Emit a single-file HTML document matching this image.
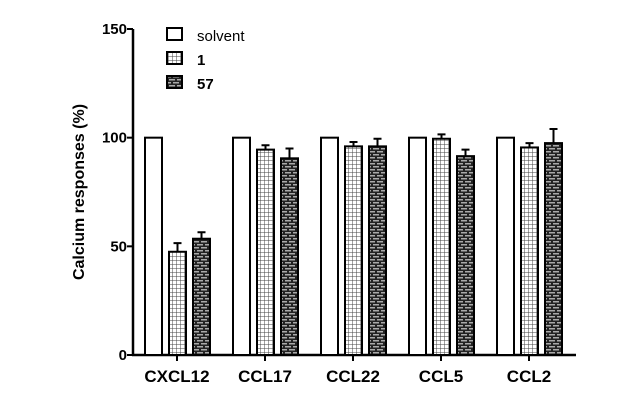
<!DOCTYPE html>
<html><head><meta charset="utf-8"><style>
body{margin:0;background:#fff;}
svg{display:block;font-family:"Liberation Sans",Arial,sans-serif;}
</style></head><body>
<svg id="chart" width="640" height="400" viewBox="0 0 640 400">
<defs>
<pattern id="grid" width="4" height="4" patternUnits="userSpaceOnUse">
<rect width="4" height="4" fill="#fff"/>
<path d="M0 0H4M0 0V4" stroke="#444" stroke-width="1"/>
</pattern>
<pattern id="brick" width="8" height="6" patternUnits="userSpaceOnUse">
<rect width="8" height="6" fill="#222"/>
<rect x="1" y="1" width="6" height="1.5" fill="#aaa"/>
<rect x="-3" y="4" width="6" height="1.5" fill="#aaa"/>
<rect x="5" y="4" width="6" height="1.5" fill="#aaa"/>
</pattern>
</defs>
<g id="axes"></g>
<g id="bars"></g>
<g id="legend">
<rect x="167" y="28" width="15" height="12" fill="#fff" stroke="#000" stroke-width="2"/>
<text x="197" y="41" font-size="15">solvent</text>
<rect x="167" y="52" width="15" height="12" fill="url(#grid)" stroke="#000" stroke-width="2"/>
<text x="197" y="65" font-size="15" font-weight="bold">1</text>
<rect x="167" y="76" width="15" height="12" fill="url(#brick)" stroke="#000" stroke-width="2"/>
<text x="197" y="89" font-size="15" font-weight="bold">57</text>
</g>
<text transform="translate(84,192) rotate(-90)" text-anchor="middle" font-size="16" font-weight="bold">Calcium responses (%)</text>
</svg>
<script>
const categories=["CXCL12","CCL17","CCL22","CCL5","CCL2"];
const solvent=[100,100,100,100,100];
const cmpd1=[47.5,94.5,96,99.5,95.5];
const cmpd1Err=[4,2,2,2,2];
const cmpd57=[53.5,90.5,96,91.5,97.5];
const cmpd57Err=[3,4.5,3.5,3,6.5];
const yTicks=[0,50,100,150];
const NS="http://www.w3.org/2000/svg";
const y=v=>355-v*(326/150);
const gx=i=>177+i*88;
function mk(tag,attrs,parent){const e=document.createElementNS(NS,tag);for(const k in attrs)e.setAttribute(k,attrs[k]);parent.appendChild(e);return e;}
const axes=document.getElementById('axes'),bars=document.getElementById('bars');
let l=mk('line',{x1:133,y1:y(150),x2:133,y2:356,stroke:'#000','stroke-width':2.5},axes);


l=mk('line',{x1:132,y1:355,x2:576,y2:355,stroke:'#000','stroke-width':2.5},axes);


yTicks.forEach(t=>{
 const tk=mk('line',{x1:127,y1:y(t),x2:133,y2:y(t),stroke:'#000','stroke-width':2},axes);
 
 
 const tx=mk('text',{x:127,y:y(t)+5,'text-anchor':'end','font-size':15,'font-weight':'bold'},axes);
 tx.textContent=t;
 
 
});
const series=[{v:solvent,e:null,f:'#fff',n:'solvent'},{v:cmpd1,e:cmpd1Err,f:'url(#grid)',n:'1'},{v:cmpd57,e:cmpd57Err,f:'url(#brick)',n:'57'}];
categories.forEach((c,i)=>{
 const tk=mk('line',{x1:gx(i),y1:355,x2:gx(i),y2:361,stroke:'#000','stroke-width':2},axes);
 
 
 const tx=mk('text',{x:gx(i),y:382,'text-anchor':'middle','font-size':17,'font-weight':'bold'},axes);
 tx.textContent=c;
 
 
 series.forEach((s,j)=>{
  const x0=gx(i)-32+j*24, w=17, v=s.v[i];
  if(s.e){
   const ee=mk('path',{d:`M${x0+w/2} ${y(v)}V${y(v+s.e[i])}M${x0+w/2-4} ${y(v+s.e[i])}H${x0+w/2+4}`,stroke:'#000','stroke-width':2,fill:'none'},bars);
   
   
  }
  const r=mk('rect',{x:x0,y:y(v),width:w,height:355-y(v),fill:s.f,stroke:'#000','stroke-width':2},bars);
  
  
 });
});
</script>
</body></html>
